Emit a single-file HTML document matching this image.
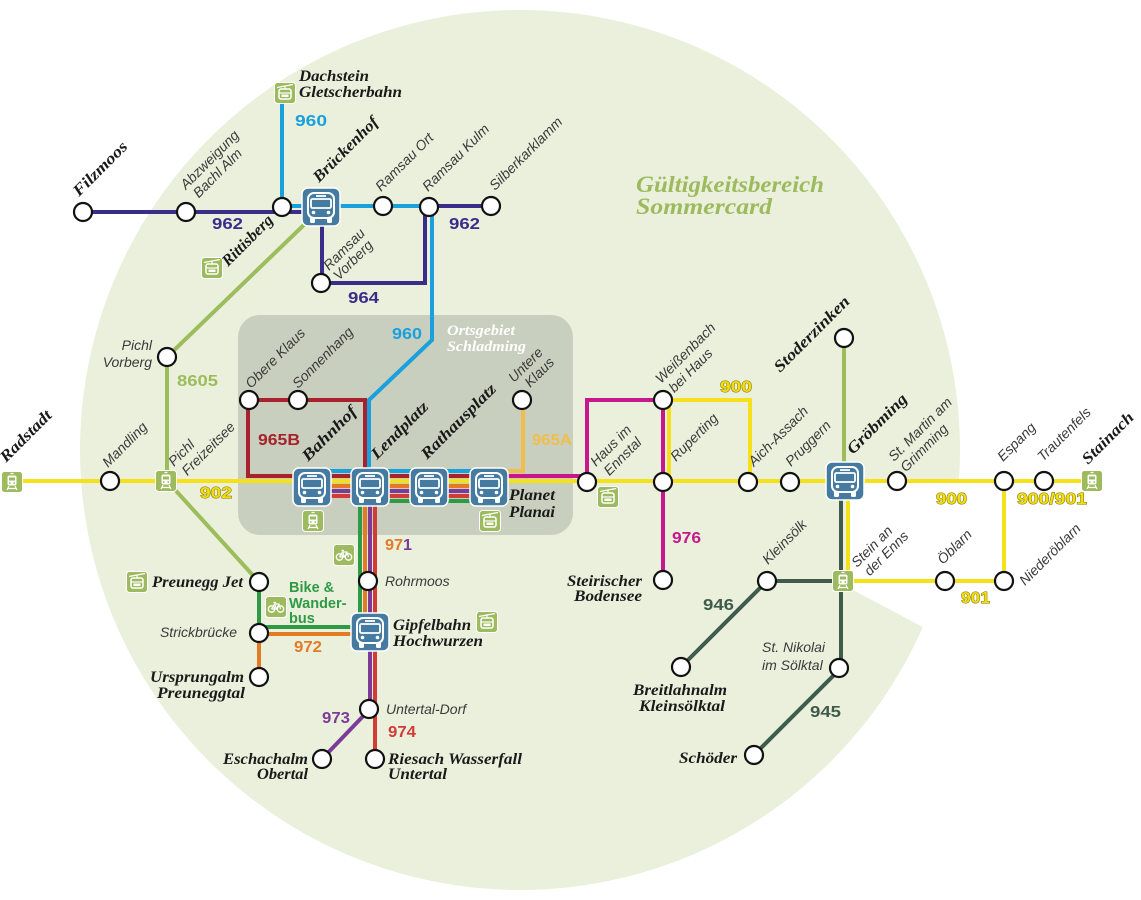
<!DOCTYPE html>
<html><head><meta charset="utf-8"><style>
html,body{margin:0;padding:0;background:#fff;}
svg{display:block;}
.s{font-family:"Liberation Sans",sans-serif;font-style:italic;font-size:14px;fill:#3a3a3a;}
.b{font-family:"Liberation Serif",serif;font-style:italic;font-weight:bold;font-size:16px;fill:#1a1a1a;}
.n{font-family:"Liberation Sans",sans-serif;font-weight:bold;font-size:16px;}
.y{fill:#f2dd12;stroke:#7d7000;stroke-width:0.9px;paint-order:stroke;}
.ln{fill:none;stroke-width:4;stroke-linejoin:miter;}
</style></head><body>
<svg width="1141" height="900" viewBox="0 0 1141 900" xmlns="http://www.w3.org/2000/svg">
<defs>
<g id="bus">
<rect x="-19" y="-19" width="38" height="38" rx="6" fill="#457ba1" stroke="#fff" stroke-width="1.5"/>
<rect x="-13" y="-14" width="26" height="25" rx="6" fill="none" stroke="#fff" stroke-width="2"/>
<rect x="-10" y="-8" width="20" height="9" rx="1.5" fill="none" stroke="#fff" stroke-width="1.8"/>
<line x1="-5" y1="-11" x2="5" y2="-11" stroke="#fff" stroke-width="1.8"/>
<circle cx="-7.5" cy="5.5" r="1.8" fill="#fff"/><circle cx="7.5" cy="5.5" r="1.8" fill="#fff"/>
<rect x="-11" y="10" width="5" height="6" rx="1.2" fill="#fff"/><rect x="6" y="10" width="5" height="6" rx="1.2" fill="#fff"/>
</g>
<g id="train">
<rect x="-10.5" y="-10.5" width="21" height="21" rx="3" fill="#9dbb5e" stroke="#fff" stroke-width="1"/>
<rect x="-4.5" y="-6.5" width="9" height="10" rx="2" fill="#fff"/>
<rect x="-3" y="-4.5" width="6" height="3" fill="#9dbb5e"/>
<circle cx="-2.2" cy="1" r="0.9" fill="#9dbb5e"/><circle cx="2.2" cy="1" r="0.9" fill="#9dbb5e"/>
<path d="M-3 4 L-5 8 M3 4 L5 8 M-4 6.5 H4 M-1.5 -8.5 H1.5" stroke="#fff" stroke-width="1.2" fill="none"/>
</g>
<g id="cable">
<rect x="-10.5" y="-10.5" width="21" height="21" rx="3" fill="#9dbb5e" stroke="#fff" stroke-width="1"/>
<path d="M-8 -5.5 L8 -8.5 M0 -7 V-4" stroke="#fff" stroke-width="1.2" fill="none"/>
<rect x="-6" y="-4" width="12" height="10" rx="2" fill="none" stroke="#fff" stroke-width="1.5"/>
<path d="M-6 0 H6" stroke="#fff" stroke-width="1.2"/>
<rect x="-3.5" y="1.5" width="7" height="2.5" fill="#fff"/>
</g>
<g id="bike">
<rect x="-10.5" y="-10.5" width="21" height="21" rx="3" fill="#9dbb5e" stroke="#fff" stroke-width="1"/>
<circle cx="-4.5" cy="2" r="3.2" fill="none" stroke="#fff" stroke-width="1.3"/>
<circle cx="4.5" cy="2" r="3.2" fill="none" stroke="#fff" stroke-width="1.3"/>
<path d="M-4.5 2 L-1.5 -3 H3 L4.5 2 M-1.5 -3 L0.5 2 H-4.5 M0.5 2 L3 -3 M-2.5 -4.5 H0" stroke="#fff" stroke-width="1.2" fill="none"/>
</g>
</defs>

<!-- background -->
<circle cx="520" cy="450" r="440" fill="#eaf0dc"/>
<polygon points="847,481 975,481 975,655 853,590 847,590" fill="#fff"/>
<rect x="238" y="315" width="335" height="220" rx="22" fill="#c8cfbe"/>

<!-- lines -->
<path class="ln" stroke="#9dbc5c" d="M308,221 L167,357 V481 L259,582"/>
<path class="ln" stroke="#9dbc5c" d="M844,338 V470"/>
<path class="ln" stroke="#1aa0dc" d="M282,103 V206 H432 V340 L369,400 V471"/>
<path class="ln" stroke="#1aa0dc" d="M312,471 H489"/>
<path class="ln" stroke="#3a2d8a" d="M83,212 H305"/>
<path class="ln" stroke="#3a2d8a" d="M429,206 H491"/>
<path class="ln" stroke="#3a2d8a" d="M322,226 V283 H425 V210"/>
<path class="ln" stroke="#a6222c" d="M489,476 H248 V400 H365 V476"/>
<path class="ln" stroke="#f5e11a" d="M12,481 H1092"/>
<path class="ln" stroke="#f5e11a" d="M669,481 V400 H750 V481"/>
<path class="ln" stroke="#f5e11a" d="M848,481 V581 H1004 V481"/>
<path class="ln" stroke="#f0be4c" d="M489,471 H523 V400"/>
<path class="ln" stroke="#c8168c" d="M489,476 H587 V400 H663 V580"/>
<path class="ln" stroke="#e47a24" d="M312,486 H489"/>
<path class="ln" stroke="#e47a24" d="M365,486 V634 H259 V677"/>
<path class="ln" stroke="#7d3b98" d="M312,491 H489"/>
<path class="ln" stroke="#7d3b98" d="M370,491 V709 L322,759"/>
<path class="ln" stroke="#d23b36" d="M312,496 H489"/>
<path class="ln" stroke="#d23b36" d="M375,496 V759"/>
<path class="ln" stroke="#2f9a45" d="M370,501 H489"/>
<path class="ln" stroke="#2f9a45" d="M360,501 V627 H259 V582"/>
<path class="ln" stroke="#3f5b4b" stroke-width="4.5" d="M841,499 V668 L754,755"/>
<path class="ln" stroke="#3f5b4b" stroke-width="4.5" d="M681,667 L767,581 H843"/>

<!-- nodes -->
<g fill="#fff" stroke="#111" stroke-width="2.2">
<circle cx="83" cy="212" r="9"/><circle cx="186" cy="212" r="9"/><circle cx="282" cy="207" r="9"/>
<circle cx="383" cy="206" r="9"/><circle cx="429" cy="207" r="9"/><circle cx="491" cy="206" r="9"/>
<circle cx="321" cy="283" r="9"/><circle cx="167" cy="357" r="9"/><circle cx="110" cy="481" r="9"/>
<circle cx="249" cy="400" r="9"/><circle cx="298" cy="400" r="9"/><circle cx="522" cy="400" r="9"/>
<circle cx="368" cy="581" r="9"/><circle cx="259" cy="582" r="9"/><circle cx="259" cy="633" r="9"/>
<circle cx="259" cy="677" r="9"/><circle cx="369" cy="709" r="9"/><circle cx="322" cy="759" r="9"/>
<circle cx="375" cy="759" r="9"/><circle cx="587" cy="482" r="9"/><circle cx="663" cy="400" r="9"/>
<circle cx="663" cy="482" r="9"/><circle cx="748" cy="482" r="9"/><circle cx="790" cy="482" r="9"/>
<circle cx="844" cy="338" r="9"/><circle cx="663" cy="580" r="9"/><circle cx="767" cy="581" r="9"/>
<circle cx="839" cy="668" r="9"/><circle cx="681" cy="667" r="9"/><circle cx="754" cy="755" r="9"/>
<circle cx="897" cy="481" r="9"/><circle cx="1004" cy="481" r="9"/><circle cx="1044" cy="481" r="9"/>
<circle cx="945" cy="581" r="9"/><circle cx="1004" cy="581" r="9"/>
</g>

<!-- icons -->
<use href="#bus" x="321" y="207"/>
<use href="#bus" x="312" y="487"/>
<use href="#bus" x="370" y="487"/>
<use href="#bus" x="429" y="487"/>
<use href="#bus" x="489" y="487"/>
<use href="#bus" x="370" y="632"/>
<use href="#bus" x="845" y="481"/>
<use href="#train" x="12" y="482"/>
<use href="#train" x="166" y="481"/>
<use href="#train" x="313" y="521"/>
<use href="#train" x="843" y="581"/>
<use href="#train" x="1092" y="481"/>
<use href="#cable" x="490" y="521"/>
<use href="#cable" x="285" y="93"/>
<use href="#cable" x="212" y="268"/>
<use href="#cable" x="137" y="582"/>
<use href="#cable" x="487" y="622"/>
<use href="#cable" x="608" y="497"/>
<use href="#bike" x="344" y="555"/>
<use href="#bike" x="276" y="607"/>

<!-- title -->
<text x="636" y="192" textLength="188" lengthAdjust="spacingAndGlyphs" style="font-family:'Liberation Serif',serif;font-style:italic;font-weight:bold;font-size:23px;fill:#9dbb5e">Gültigkeitsbereich</text>
<text x="636" y="214" textLength="136" lengthAdjust="spacingAndGlyphs" style="font-family:'Liberation Serif',serif;font-style:italic;font-weight:bold;font-size:23px;fill:#9dbb5e">Sommercard</text>

<text x="447" y="335" textLength="68" lengthAdjust="spacingAndGlyphs" style="font-family:'Liberation Serif',serif;font-style:italic;font-weight:bold;font-size:15px;fill:#fff">Ortsgebiet</text>
<text x="447" y="351" textLength="79" lengthAdjust="spacingAndGlyphs" style="font-family:'Liberation Serif',serif;font-style:italic;font-weight:bold;font-size:15px;fill:#fff">Schladming</text>

<!-- small rotated labels -->
<text class="s" transform="translate(186,190) rotate(-45)"><tspan x="0" y="0">Abzweigung</tspan><tspan x="3" y="15">Bachl Alm</tspan></text>
<text class="s" transform="translate(381,192) rotate(-45)">Ramsau Ort</text>
<text class="s" transform="translate(428,192) rotate(-45)">Ramsau Kulm</text>
<text class="s" transform="translate(495,191) rotate(-45)">Silberkarklamm</text>
<text class="s" transform="translate(329,271) rotate(-45)"><tspan x="0" y="0">Ramsau</tspan><tspan x="0" y="14">Vorberg</tspan></text>
<text class="s" transform="translate(251,389) rotate(-45)">Obere Klaus</text>
<text class="s" transform="translate(298,389) rotate(-45)">Sonnenhang</text>
<text class="s" transform="translate(514,383) rotate(-45)"><tspan x="0" y="0">Untere</tspan><tspan x="8" y="15">Klaus</tspan></text>
<text class="s" transform="translate(108,468) rotate(-45)">Mandling</text>
<text class="s" transform="translate(174,467) rotate(-45)"><tspan x="0" y="0">Pichl</tspan><tspan x="3" y="16">Freizeitsee</tspan></text>
<text class="s" transform="translate(596,467) rotate(-45)"><tspan x="0" y="0">Haus im</tspan><tspan x="3" y="16">Ennstal</tspan></text>
<text class="s" transform="translate(661,384) rotate(-45)"><tspan x="0" y="0">Weißenbach</tspan><tspan x="3" y="16">bei Haus</tspan></text>
<text class="s" transform="translate(676,462) rotate(-45)">Ruperting</text>
<text class="s" transform="translate(754,467) rotate(-45)">Aich-Assach</text>
<text class="s" transform="translate(791,467) rotate(-45)">Pruggern</text>
<text class="s" transform="translate(768,565) rotate(-45)">Kleinsölk</text>
<text class="s" transform="translate(857,568) rotate(-45)"><tspan x="0" y="0">Stein an</tspan><tspan x="3" y="15">der Enns</tspan></text>
<text class="s" transform="translate(894,462) rotate(-45)"><tspan x="0" y="0">St. Martin am</tspan><tspan x="1" y="16">Grimming</tspan></text>
<text class="s" transform="translate(1003,462) rotate(-45)">Espang</text>
<text class="s" transform="translate(1043,462) rotate(-45)">Trautenfels</text>
<text class="s" transform="translate(943,565) rotate(-45)">Öblarn</text>
<text class="s" transform="translate(1025,586) rotate(-45)">Niederöblarn</text>

<!-- small horizontal labels -->
<text class="s" x="152" y="350" text-anchor="end">Pichl</text>
<text class="s" x="152" y="367" text-anchor="end">Vorberg</text>
<text class="s" x="385" y="586">Rohrmoos</text>
<text class="s" x="237" y="637" text-anchor="end">Strickbrücke</text>
<text class="s" x="386" y="714">Untertal-Dorf</text>
<text class="s" x="762" y="652">St. Nikolai</text>
<text class="s" x="762" y="670">im Sölktal</text>

<!-- bold rotated labels -->
<text class="b" transform="translate(79,197) rotate(-45)" textLength="70" lengthAdjust="spacingAndGlyphs">Filzmoos</text>
<text class="b" transform="translate(319,183) rotate(-45)" textLength="85" lengthAdjust="spacingAndGlyphs">Brückenhof</text>
<text class="b" transform="translate(228,267) rotate(-45)" textLength="65" lengthAdjust="spacingAndGlyphs">Rittisberg</text>
<text class="b" transform="translate(6,463) rotate(-45)" textLength="66" lengthAdjust="spacingAndGlyphs">Radstadt</text>
<text class="b" transform="translate(308,462) rotate(-45)" textLength="70" lengthAdjust="spacingAndGlyphs">Bahnhof</text>
<text class="b" transform="translate(377,460) rotate(-45)" textLength="74" lengthAdjust="spacingAndGlyphs">Lendplatz</text>
<text class="b" transform="translate(427,460) rotate(-45)" textLength="99" lengthAdjust="spacingAndGlyphs">Rathausplatz</text>
<text class="b" transform="translate(780,373) rotate(-45)" textLength="100" lengthAdjust="spacingAndGlyphs">Stoderzinken</text>
<text class="b" transform="translate(853,455) rotate(-45)" textLength="78" lengthAdjust="spacingAndGlyphs">Gröbming</text>
<text class="b" transform="translate(1088,465) rotate(-45)" textLength="66" lengthAdjust="spacingAndGlyphs">Stainach</text>

<!-- bold horizontal labels -->
<text class="b" x="299" y="81" textLength="70" lengthAdjust="spacingAndGlyphs">Dachstein</text>
<text class="b" x="299" y="97" textLength="103" lengthAdjust="spacingAndGlyphs">Gletscherbahn</text>
<text class="b" x="509" y="500" textLength="46" lengthAdjust="spacingAndGlyphs">Planet</text>
<text class="b" x="509" y="517" textLength="46" lengthAdjust="spacingAndGlyphs">Planai</text>
<text class="b" x="152" y="587" textLength="91" lengthAdjust="spacingAndGlyphs">Preunegg Jet</text>
<text class="b" x="150" y="682" textLength="94" lengthAdjust="spacingAndGlyphs">Ursprungalm</text>
<text class="b" x="157" y="698" textLength="88" lengthAdjust="spacingAndGlyphs">Preuneggtal</text>
<text class="b" x="393" y="630" textLength="78" lengthAdjust="spacingAndGlyphs">Gipfelbahn</text>
<text class="b" x="393" y="646" textLength="90" lengthAdjust="spacingAndGlyphs">Hochwurzen</text>
<text class="b" x="223" y="764" textLength="85" lengthAdjust="spacingAndGlyphs">Eschachalm</text>
<text class="b" x="257" y="779" textLength="51" lengthAdjust="spacingAndGlyphs">Obertal</text>
<text class="b" x="388" y="764" textLength="134" lengthAdjust="spacingAndGlyphs">Riesach Wasserfall</text>
<text class="b" x="388" y="779" textLength="59" lengthAdjust="spacingAndGlyphs">Untertal</text>
<text class="b" x="567" y="586" textLength="75" lengthAdjust="spacingAndGlyphs">Steirischer</text>
<text class="b" x="574" y="601" textLength="68" lengthAdjust="spacingAndGlyphs">Bodensee</text>
<text class="b" x="633" y="695" textLength="94" lengthAdjust="spacingAndGlyphs">Breitlahnalm</text>
<text class="b" x="639" y="711" textLength="86" lengthAdjust="spacingAndGlyphs">Kleinsölktal</text>
<text class="b" x="679" y="763" textLength="58" lengthAdjust="spacingAndGlyphs">Schöder</text>

<!-- route numbers -->
<text class="n" x="295" y="126" fill="#1aa0dc" textLength="32" lengthAdjust="spacingAndGlyphs">960</text>
<text class="n" x="392" y="339" fill="#1aa0dc" textLength="30" lengthAdjust="spacingAndGlyphs">960</text>
<text class="n" x="212" y="229" fill="#3a2d8a" textLength="31" lengthAdjust="spacingAndGlyphs">962</text>
<text class="n" x="449" y="229" fill="#3a2d8a" textLength="31" lengthAdjust="spacingAndGlyphs">962</text>
<text class="n" x="348" y="303" fill="#3a2d8a" textLength="31" lengthAdjust="spacingAndGlyphs">964</text>
<text class="n" x="258" y="445" fill="#a6222c" textLength="42" lengthAdjust="spacingAndGlyphs">965B</text>
<text class="n" x="532" y="445" fill="#f0be4c" textLength="40" lengthAdjust="spacingAndGlyphs">965A</text>
<text class="n" x="177" y="386" fill="#9dbc5c" textLength="41" lengthAdjust="spacingAndGlyphs">8605</text>
<text class="n y" x="200" y="498" textLength="32" lengthAdjust="spacingAndGlyphs">902</text>
<text class="n" x="385" y="550" textLength="27" lengthAdjust="spacingAndGlyphs"><tspan fill="#e47a24">97</tspan><tspan fill="#7d3b98">1</tspan></text>
<text class="n" x="294" y="652" fill="#e47a24" textLength="28" lengthAdjust="spacingAndGlyphs">972</text>
<text class="n" x="322" y="723" fill="#7d3b98" textLength="28" lengthAdjust="spacingAndGlyphs">973</text>
<text class="n" x="388" y="737" fill="#d23b36" textLength="28" lengthAdjust="spacingAndGlyphs">974</text>
<text class="n y" x="720" y="392" textLength="32" lengthAdjust="spacingAndGlyphs">900</text>
<text class="n" x="672" y="543" fill="#c8168c" textLength="29" lengthAdjust="spacingAndGlyphs">976</text>
<text class="n y" x="936" y="504" textLength="31" lengthAdjust="spacingAndGlyphs">900</text>
<text class="n y" x="1017" y="504" textLength="70" lengthAdjust="spacingAndGlyphs">900/901</text>
<text class="n y" x="961" y="603" textLength="29" lengthAdjust="spacingAndGlyphs">901</text>
<text class="n" x="703" y="610" fill="#3f5b4b" textLength="31" lengthAdjust="spacingAndGlyphs">946</text>
<text class="n" x="810" y="717" fill="#3f5b4b" textLength="31" lengthAdjust="spacingAndGlyphs">945</text>
<text class="n" x="289" y="592" fill="#2f9a45" style="font-size:14.5px">Bike &amp;</text>
<text class="n" x="289" y="608" fill="#2f9a45" style="font-size:14.5px">Wander-</text>
<text class="n" x="289" y="623" fill="#2f9a45" style="font-size:14.5px">bus</text>
</svg>
</body></html>
